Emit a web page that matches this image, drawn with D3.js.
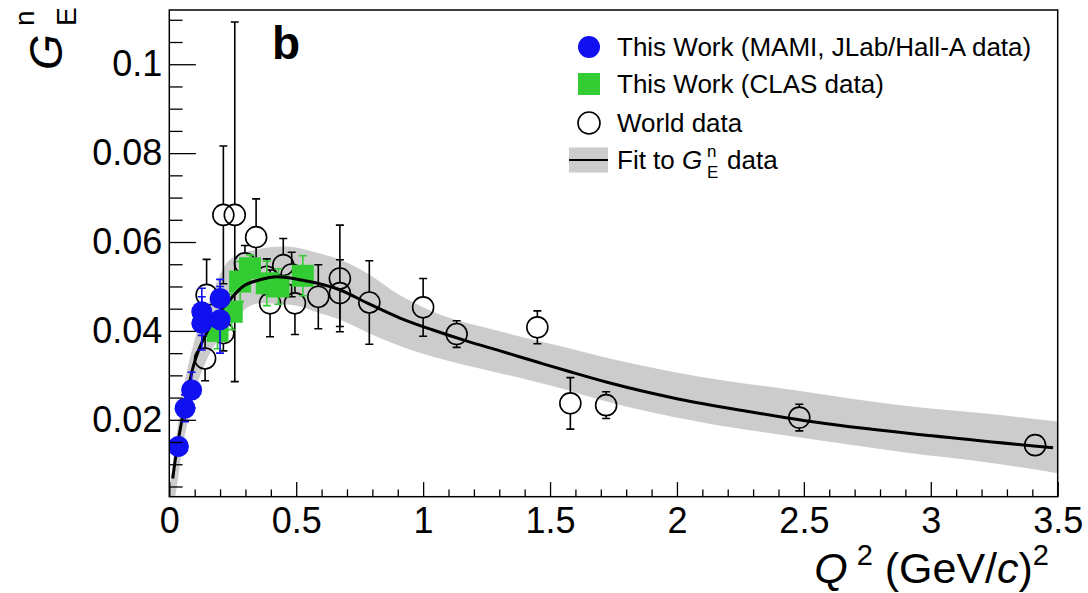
<!DOCTYPE html>
<html><head><meta charset="utf-8">
<script src="https://cdn.jsdelivr.net/npm/d3@7"></script>
<style>
body{margin:0;background:#fff}
svg{display:block}
text{font-family:"Liberation Sans",Arial,Helvetica,sans-serif;fill:#000}
</style>
</head><body>
<svg id="c" width="1088" height="593"></svg>
<script>
// ---------- data ----------
const xTicks = [0, 0.5, 1, 1.5, 2, 2.5, 3, 3.5];
const yTicks = [0.02, 0.04, 0.06, 0.08, 0.1];

// This Work (MAMI, JLab/Hall-A)
const blueQ2  = [0.036, 0.062, 0.088, 0.128, 0.128, 0.200, 0.200];
const blueGE  = [0.0140, 0.0226, 0.0267, 0.0443, 0.0417, 0.0473, 0.0425];
const blueErr = [0.0020, 0.0030, 0.0040, 0.0053, 0.0060, 0.0043, 0.0075];

// This Work (CLAS)
const greenQ2  = [0.190, 0.246, 0.279, 0.318, 0.384, 0.430, 0.526];
const greenGE  = [0.0400, 0.0443, 0.0511, 0.0541, 0.0507, 0.0500, 0.0524];
const greenErr = [0.0040, 0.0040, 0.0045, 0.0030, 0.0050, 0.0040, 0.0045];

// World data
const worldQ2    = [0.141, 0.147, 0.213, 0.213, 0.258, 0.298, 0.342, 0.384, 0.397, 0.449, 0.482, 0.495, 0.587, 0.672, 0.672, 0.788, 1.000, 1.132, 1.450, 1.580, 1.721, 2.482, 3.411];
const worldGE    = [0.0338, 0.0481, 0.0661, 0.0395, 0.0661, 0.0552, 0.0611, 0.0522, 0.0462, 0.0548, 0.0527, 0.0462, 0.0477, 0.0518, 0.0485, 0.0464, 0.0453, 0.0393, 0.0408, 0.0237, 0.0233, 0.0205, 0.0143];
const worldErrLo = [0.0050, 0.0080, 0.0155, 0.0040, 0.0375, 0.0040, 0.0086, 0.0040, 0.0075, 0.0060, 0.0050, 0.0070, 0.0072, 0.0120, 0.0075, 0.0094, 0.0065, 0.0030, 0.0037, 0.0058, 0.0030, 0.0030, 0.0015];
const worldErrHi = [0.0050, 0.0080, 0.0155, 0.0040, 0.0434, 0.0040, 0.0086, 0.0040, 0.0075, 0.0060, 0.0050, 0.0070, 0.0072, 0.0120, 0.0075, 0.0094, 0.0065, 0.0030, 0.0037, 0.0058, 0.0030, 0.0030, 0.0015];

// Fit curve
const fitQ2 = [0.0134, 0.030, 0.055, 0.0946, 0.160, 0.239, 0.290, 0.357, 0.423, 0.515, 0.673, 0.779, 0.909, 1.039, 1.173, 1.303, 1.449, 1.579, 1.721, 2.004, 2.288, 2.505, 3.005, 3.482];
const fitGE = [0.0068, 0.0135, 0.0215, 0.0320, 0.0410, 0.0470, 0.0500, 0.0515, 0.0522, 0.0515, 0.0492, 0.0463, 0.0429, 0.0402, 0.0377, 0.0355, 0.0330, 0.0308, 0.0285, 0.0247, 0.0218, 0.0198, 0.0164, 0.0137];

// Fit uncertainty band
const bandQ2 = [0.000, 0.020, 0.050, 0.100, 0.160, 0.225, 0.290, 0.357, 0.450, 0.515, 0.567, 0.673, 0.779, 0.909, 1.039, 1.303, 1.567, 1.697, 2.091, 2.485, 2.879, 3.273, 3.500];
const bandLo = [0.0000, 0.0020, 0.0130, 0.0260, 0.0350, 0.0400, 0.0445, 0.0462, 0.0460, 0.0455, 0.0445, 0.0425, 0.0397, 0.0366, 0.0342, 0.0305, 0.0267, 0.0245, 0.0195, 0.0160, 0.0128, 0.0100, 0.0080];
const bandHi = [0.0040, 0.0130, 0.0250, 0.0380, 0.0470, 0.0552, 0.0575, 0.0585, 0.0590, 0.0586, 0.0578, 0.0560, 0.0530, 0.0480, 0.0443, 0.0399, 0.0362, 0.0343, 0.0297, 0.0265, 0.0233, 0.0211, 0.0196];

// ---------- layout ----------
const L = 169.3, R = 1057.7, T = 10, B = 496.7;
const svg = d3.select("#c");
const x = d3.scaleLinear().domain([0, 3.5]).range([L, R]);
const y = d3.scaleLinear().domain([0.0027, 0.1122]).range([B, T]);

svg.append("defs").append("clipPath").attr("id", "clip")
  .append("rect").attr("x", L).attr("y", T).attr("width", R - L).attr("height", B - T);

const plot = svg.append("g").attr("clip-path", "url(#clip)");

// band
const band = bandQ2.map((q, i) => ({q, lo: bandLo[i], hi: bandHi[i]}));
plot.append("path").datum(band)
  .attr("fill", "#cccccc")
  .attr("d", d3.area().x(d => x(d.q)).y0(d => y(d.lo)).y1(d => y(d.hi)).curve(d3.curveMonotoneX));

// world data
const rW = 10.5, cap = 4;
const world = worldQ2.map((q, i) => ({q, v: worldGE[i], lo: worldErrLo[i], hi: worldErrHi[i]}));
const wg = plot.append("g").attr("stroke", "#000").attr("stroke-width", 1.6).attr("fill", "none");
world.forEach(d => {
  const cx = x(d.q), cy = y(d.v), yt = y(d.v + d.hi), yb = y(d.v - d.lo);
  if (cy - yt > rW) {
    wg.append("line").attr("x1", cx).attr("x2", cx).attr("y1", yt).attr("y2", cy - rW);
    wg.append("line").attr("x1", cx - cap).attr("x2", cx + cap).attr("y1", yt).attr("y2", yt);
  }
  if (yb - cy > rW) {
    wg.append("line").attr("x1", cx).attr("x2", cx).attr("y1", cy + rW).attr("y2", yb);
    wg.append("line").attr("x1", cx - cap).attr("x2", cx + cap).attr("y1", yb).attr("y2", yb);
  }
  wg.append("circle").attr("cx", cx).attr("cy", cy).attr("r", rW);
});

// error-bar helper
function bars(g, qs, vs, es, color) {
  const gg = g.append("g").attr("stroke", color).attr("stroke-width", 1.6);
  qs.forEach((q, i) => {
    const cx = x(q), yt = y(vs[i] + es[i]), yb = y(vs[i] - es[i]);
    gg.append("line").attr("x1", cx).attr("x2", cx).attr("y1", yt).attr("y2", yb);
    gg.append("line").attr("x1", cx - cap).attr("x2", cx + cap).attr("y1", yt).attr("y2", yt);
    gg.append("line").attr("x1", cx - cap).attr("x2", cx + cap).attr("y1", yb).attr("y2", yb);
  });
}

// green
const green = "#33cc33", sq = 22;
bars(plot, greenQ2, greenGE, greenErr, green);
plot.append("g").selectAll("rect").data(greenQ2).join("rect")
  .attr("x", (q) => x(q) - sq / 2).attr("y", (q, i) => y(greenGE[i]) - sq / 2)
  .attr("width", sq).attr("height", sq).attr("fill", green);

// fit line
const fit = fitQ2.map((q, i) => [q, fitGE[i]]);
plot.append("path").datum(fit)
  .attr("fill", "none").attr("stroke", "#000").attr("stroke-width", 3)
  .attr("d", d3.line().x(d => x(d[0])).y(d => y(d[1])).curve(d3.curveMonotoneX));

// blue
const blue = "#1010f0", rB = 10.5;
bars(plot, blueQ2, blueGE, blueErr, blue);
plot.append("g").selectAll("circle").data(blueQ2).join("circle")
  .attr("cx", q => x(q)).attr("cy", (q, i) => y(blueGE[i])).attr("r", rB).attr("fill", blue);

// ---------- axes ----------
const fmt = d3.format("~g");
const xMinor = d3.range(0, 3.5001, 0.1).filter(v => Math.abs(v * 2 - Math.round(v * 2)) > 1e-6);
const yMinor = d3.range(0.005, 0.1121, 0.005).filter(v => !yTicks.some(t => Math.abs(t - v) < 1e-6));

const gx = svg.append("g").attr("transform", `translate(0,${B})`)
  .call(d3.axisBottom(x).tickValues(xTicks).tickSize(-14.6).tickSizeOuter(0).tickPadding(11).tickFormat(fmt));
gx.append("g").call(d3.axisBottom(x).tickValues(xMinor).tickSize(-7.3).tickSizeOuter(0).tickFormat(""));
const gy = svg.append("g").attr("transform", `translate(${L},0)`)
  .call(d3.axisLeft(y).tickValues(yTicks).tickSize(-26.6).tickSizeOuter(0).tickPadding(7).tickFormat(fmt));
gy.append("g").call(d3.axisLeft(y).tickValues(yMinor).tickSize(-13.3).tickSizeOuter(0).tickFormat(""));
svg.selectAll(".domain").remove();
svg.selectAll(".tick line").attr("stroke", "#000").attr("stroke-width", 1.3);
svg.selectAll(".tick text").attr("font-size", 36).attr("font-family", '"Liberation Sans",Arial,sans-serif').attr("fill", "#000");

// frame
svg.append("rect").attr("x", L).attr("y", T).attr("width", R - L).attr("height", B - T)
  .attr("fill", "none").attr("stroke", "#000").attr("stroke-width", 1.5);

// panel label
svg.append("text").attr("x", 272).attr("y", 59).attr("font-size", 46).attr("font-weight", "bold").text("b");

// x title
const xt = svg.append("text").attr("x", 1049).attr("y", 583).attr("text-anchor", "end").attr("font-size", 43);
xt.append("tspan").attr("font-style", "italic").text("Q");
xt.append("tspan").attr("font-size", 29).attr("dy", -18).attr("dx", 9).text("2");
xt.append("tspan").attr("dy", 18).text(" (GeV/");
xt.append("tspan").attr("font-style", "italic").text("c");
xt.append("tspan").text(")");
xt.append("tspan").attr("font-size", 29).attr("dy", -18).text("2");

// y title (rotated)
const yt = svg.append("g").attr("transform", "translate(62,70) rotate(-90)");
yt.append("text").attr("x", 0).attr("y", 0).attr("font-size", 46).attr("font-style", "italic").text("G");
yt.append("text").attr("x", 44).attr("y", -28).attr("font-size", 28).text("n");
yt.append("text").attr("x", 44).attr("y", 14).attr("font-size", 28).text("E");

// ---------- legend ----------
const lg = svg.append("g");
const lx = 589, tx = 617;
const rows = [47, 84, 123, 160];
lg.append("circle").attr("cx", lx).attr("cy", rows[0]).attr("r", 11).attr("fill", blue);
lg.append("rect").attr("x", lx - 11).attr("y", rows[1] - 11).attr("width", 22).attr("height", 22).attr("fill", green);
lg.append("circle").attr("cx", lx).attr("cy", rows[2]).attr("r", 11).attr("fill", "none").attr("stroke", "#000").attr("stroke-width", 1.6);
lg.append("rect").attr("x", 569).attr("y", rows[3] - 12.5).attr("width", 39).attr("height", 25).attr("fill", "#cccccc");
lg.append("line").attr("x1", 569).attr("x2", 608).attr("y1", rows[3]).attr("y2", rows[3]).attr("stroke", "#000").attr("stroke-width", 2);
const labels = ["This Work (MAMI, JLab/Hall-A data)", "This Work (CLAS data)", "World data"];
labels.forEach((s, i) => lg.append("text").attr("x", tx).attr("y", rows[i] + 9).attr("font-size", 26).text(s));
const f = lg.append("text").attr("x", tx).attr("y", rows[3] + 9).attr("font-size", 26);
f.append("tspan").text("Fit to ");
f.append("tspan").attr("font-style", "italic").text("G");
lg.append("text").attr("x", 707).attr("y", 157).attr("font-size", 17).text("n");
lg.append("text").attr("x", 707).attr("y", 178).attr("font-size", 17).text("E");
lg.append("text").attr("x", 727).attr("y", rows[3] + 9).attr("font-size", 26).text("data");
</script>
</body></html>
